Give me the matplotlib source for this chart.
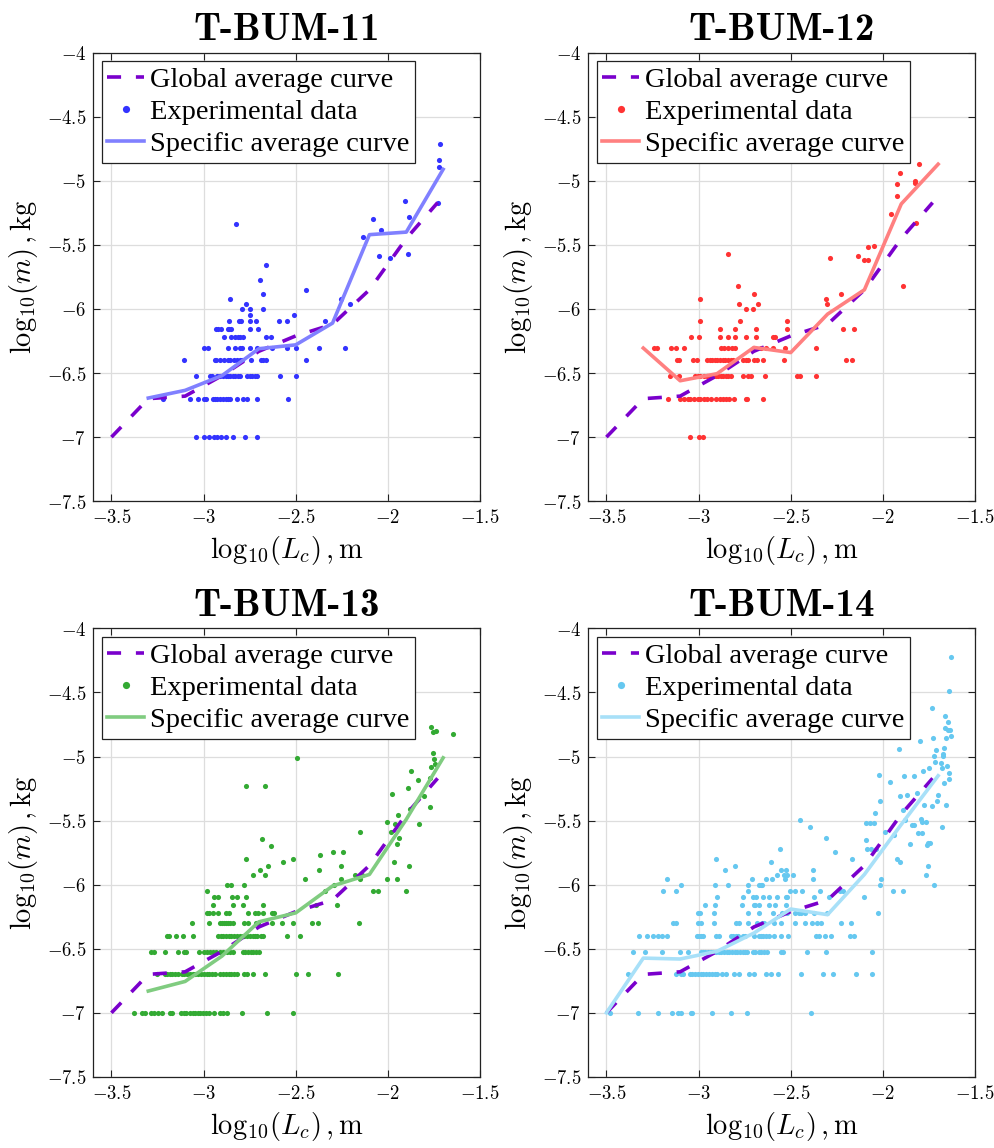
import numpy as np
import matplotlib
matplotlib.use("Agg")
import matplotlib.pyplot as plt

plt.rcParams['axes.unicode_minus'] = True
plt.rcParams['mathtext.fontset'] = 'cm'

titles = ["T-BUM-11", "T-BUM-12", "T-BUM-13", "T-BUM-14"]
x_ticks = [-3.5, -3.0, -2.5, -2.0, -1.5]
x_ticklabels = ["-3.5", "-3", "-2.5", "-2", "-1.5"]
y_ticks = [-7.5, -7.0, -6.5, -6.0, -5.5, -5.0, -4.5, -4.0]
y_ticklabels = ["-7.5", "-7", "-6.5", "-6", "-5.5", "-5", "-4.5", "-4"]

# Global average curve (same in all panels)
glob_x = [-3.5, -3.3, -3.1, -2.9, -2.7, -2.5, -2.3, -2.1, -1.9, -1.73]
glob_y = [-7.0, -6.70, -6.68, -6.52, -6.33, -6.21, -6.12, -5.85, -5.45, -5.17]

# Specific average curves
spec_x = [-3.3, -3.1, -2.9, -2.7, -2.5, -2.3, -2.1, -1.9, -1.7]
t11_spec_y = [-6.695, -6.635, -6.52, -6.31, -6.28, -6.11, -5.42, -5.40, -4.91]
t12_spec_y = [-6.305, -6.56, -6.505, -6.30, -6.34, -6.04, -5.85, -5.18, -4.87]
t13_spec_y = [-6.83, -6.755, -6.557, -6.29, -6.22, -6.01, -5.92, -5.49, -5.01]
t14_spec_x = [-3.5, -3.3, -3.1, -2.9, -2.7, -2.5, -2.3, -2.1, -1.9, -1.7]
t14_spec_y = [-7.0, -6.573, -6.58, -6.52, -6.378, -6.19, -6.234, -5.92, -5.53, -5.15]

# Experimental data: rows of equal log10(m) -> list of log10(Lc)
t11_rows = {
    -7.0: [-3.04, -3.0, -2.97, -2.945, -2.925, -2.905, -2.88, -2.84, -2.775, -2.71],
    -6.699: [-3.22, -3.075, -3.03, -3.0, -2.985, -2.95, -2.94, -2.925, -2.91, -2.895, -2.88, -2.87,
             -2.855, -2.82, -2.785, -2.765, -2.71, -2.54],
    -6.523: [-3.04, -2.965, -2.955, -2.925, -2.91, -2.895, -2.88, -2.87, -2.855, -2.84, -2.83, -2.815,
             -2.805, -2.765, -2.75, -2.735, -2.72, -2.71, -2.585, -2.5],
    -6.398: [-3.105, -2.94, -2.93, -2.91, -2.89, -2.87, -2.855, -2.835, -2.82, -2.805, -2.79, -2.745,
             -2.69, -2.675, -2.66, -2.445],
    -6.301: [-3.0, -2.975, -2.87, -2.83, -2.8, -2.79, -2.75, -2.71, -2.63, -2.55, -2.5, -2.375, -2.23],
    -6.222: [-2.89, -2.85, -2.83, -2.815, -2.8, -2.785, -2.66, -2.635],
    -6.155: [-2.93, -2.92, -2.905, -2.87, -2.86, -2.85, -2.75, -2.705],
    -6.097: [-2.86, -2.81, -2.795, -2.75, -2.715, -2.59, -2.55, -2.34],
    -6.046: [-2.75, -2.51],
    -6.0: [-2.79, -2.75, -2.675],
    -5.959: [-2.77, -2.205],
    -5.921: [-2.855, -2.255],
    -5.886: [-2.675],
    -5.854: [-2.445],
    -5.77: [-2.695],
    -5.658: [-2.66],
}
t11_extra_x = [-2.825, -2.135, -2.08, -2.035, -2.05, -1.99, -1.89, -1.905, -1.885, -1.73, -1.725, -1.725, -1.715]
t11_extra_y = [-5.337, -5.44, -5.30, -5.38, -5.585, -5.60, -5.57, -5.155, -5.285, -5.17, -4.84, -4.89, -4.71]

t12_rows = {
    -7.0: [-3.045, -3.0, -2.975],
    -6.699: [-3.165, -3.10, -3.08, -3.06, -3.045, -3.025, -3.005, -2.99, -2.97, -2.955, -2.935, -2.905,
             -2.885, -2.87, -2.85, -2.835, -2.81, -2.745, -2.735, -2.65],
    -6.523: [-3.155, -3.105, -3.02, -3.005, -2.99, -2.97, -2.955, -2.935, -2.92, -2.905, -2.895, -2.88,
             -2.865, -2.85, -2.84, -2.825, -2.76, -2.73, -2.715, -2.64, -2.465, -2.45, -2.365],
    -6.398: [-3.115, -3.105, -3.03, -3.01, -2.955, -2.94, -2.925, -2.91, -2.9, -2.885, -2.87, -2.855,
             -2.84, -2.825, -2.815, -2.76, -2.745, -2.73, -2.7, -2.685, -2.65, -2.535, -2.2, -2.17],
    -6.301: [-3.24, -3.225, -3.15, -3.125, -3.08, -2.88, -2.86, -2.84, -2.82, -2.8, -2.7, -2.66, -2.635,
             -2.595, -2.53, -2.365],
    -6.222: [-3.04, -2.995, -2.885, -2.84, -2.8, -2.745, -2.69, -2.595, -2.585],
    -6.155: [-2.885, -2.8, -2.69, -2.52, -2.215, -2.155],
    -6.097: [-2.99, -2.775, -2.52],
    -6.0: [-2.74, -2.705],
    -5.959: [-2.78, -2.675, -2.305],
    -5.921: [-2.99, -2.31],
    -5.886: [-2.70, -2.225],
    -5.824: [-2.785, -1.89],
}
t12_extra_x = [-2.84, -2.285, -2.135, -2.105, -2.08, -2.08, -2.05, -1.957, -1.924, -1.924, -1.906,
               -1.826, -1.826, -1.82, -1.803]
t12_extra_y = [-5.569, -5.60, -5.585, -5.62, -5.62, -5.52, -5.51, -5.26, -5.115, -5.025, -4.94,
               -5.02, -5.0, -5.328, -4.87]

t13_rows = {
    -7.0: [-3.375, -3.335, -3.317, -3.285, -3.267, -3.248, -3.227, -3.183, -3.169, -3.122, -3.107, -3.093,
           -3.075, -3.06, -3.046, -3.031, -3.017, -3.002, -2.988, -2.973, -2.944, -2.912, -2.893, -2.872,
           -2.792, -2.654, -2.517],
    -6.699: [-3.252, -3.212, -3.198, -3.183, -3.169, -3.154, -3.14, -3.118, -3.104, -3.089, -3.075, -3.06,
             -3.046, -3.031, -3.013, -2.998, -2.984, -2.969, -2.955, -2.94, -2.912, -2.893, -2.879, -2.864,
             -2.85, -2.835, -2.821, -2.781, -2.766, -2.73, -2.669, -2.5, -2.431, -2.268],
    -6.523: [-3.285, -3.267, -3.209, -3.14, -3.104, -3.096, -3.027, -2.998, -2.98, -2.966, -2.951, -2.93,
             -2.912, -2.893, -2.875, -2.857, -2.839, -2.785, -2.774, -2.759, -2.745, -2.73, -2.716, -2.701],
    -6.398: [-3.201, -3.19, -3.147, -3.111, -3.057, -2.919, -2.908, -2.893, -2.879, -2.864, -2.85, -2.835,
             -2.817, -2.803, -2.788, -2.781, -2.767, -2.748, -2.734, -2.719, -2.709, -2.687, -2.676, -2.546,
             -2.477],
    -6.301: [-3.065, -2.973, -2.912, -2.901, -2.89, -2.879, -2.868, -2.857, -2.839, -2.781, -2.759, -2.716,
             -2.705, -2.629, -2.575, -2.513, -2.413, -2.377, -2.155],
    -6.222: [-2.98, -2.97, -2.948, -2.919, -2.879, -2.864, -2.759, -2.719, -2.705, -2.676, -2.629, -2.618],
    -6.155: [-2.948, -2.843, -2.788, -2.676, -2.391, -2.277],
    -6.097: [-2.944, -2.919, -2.845, -2.82, -2.77],
    -6.046: [-2.98, -2.341, -2.083, -2.054, -1.9],
    -6.0: [-2.875, -2.85, -2.781, -2.29],
    -5.959: [-2.449, -2.252, -2.15, -2.006, -1.951],
    -5.921: [-2.73, -2.665, -2.178, -2.14],
    -5.886: [-2.694, -2.372],
    -5.854: [-2.651, -2.254, -1.886],
    -5.824: [-2.567, -1.966],
    -5.796: [-2.77, -2.517],
    -5.77: [-2.368],
    -5.745: [-2.299, -2.246],
    -5.699: [-2.633],
}
t13_extra_x = [-2.683, -2.772, -2.668, -2.495, -1.766, -1.755, -1.737, -1.647, -1.756, -1.748, -1.745,
               -1.766, -1.875, -1.77, -1.835, -1.893, -1.98, -1.77, -1.803, -1.879, -1.944, -2.006,
               -1.962, -1.832, -1.984, -2.15, -1.941, -1.948]
t13_extra_y = [-5.64, -5.227, -5.227, -5.01, -4.771, -4.807, -4.797, -4.823, -4.974, -5.018, -5.059,
               -5.078, -5.111, -5.171, -5.184, -5.246, -5.296, -5.39, -5.311, -5.41, -5.457, -5.511,
               -5.524, -5.524, -5.587, -5.587, -5.636, -5.68]

t14_rows = {
    -7.0: [-3.48, -3.326, -3.221, -3.145, -3.112, -3.094, -3.043, -3.036, -2.928, -2.826, -2.739, -2.391],
    -6.699: [-3.384, -3.123, -3.094, -3.083, -3.047, -3.033, -3.018, -3.004, -2.989, -2.975, -2.96, -2.946,
             -2.928, -2.913, -2.902, -2.873, -2.851, -2.808, -2.779, -2.725, -2.699, -2.634, -2.609, -2.569,
             -2.446, -2.323, -2.272, -2.147, -2.06],
    -6.523: [-3.355, -3.293, -3.196, -3.101, -3.058, -2.989, -2.975, -2.964, -2.95, -2.935, -2.92, -2.906,
             -2.891, -2.877, -2.862, -2.848, -2.833, -2.819, -2.804, -2.79, -2.775, -2.761, -2.75, -2.736,
             -2.707, -2.696, -2.674, -2.66, -2.645, -2.63, -2.554, -2.543, -2.413, -2.308, -2.06],
    -6.398: [-3.322, -3.279, -3.246, -3.221, -3.196, -3.17, -3.011, -3.0, -2.989, -2.978, -2.906, -2.888,
             -2.826, -2.812, -2.797, -2.786, -2.761, -2.746, -2.699, -2.674, -2.663, -2.652, -2.634, -2.62,
             -2.591, -2.554, -2.515, -2.362, -2.348, -2.315, -2.283, -2.18, -2.157],
    -6.301: [-3.138, -3.123, -3.004, -2.989, -2.917, -2.797, -2.782, -2.732, -2.681, -2.656, -2.645, -2.591,
             -2.554, -2.475, -2.424, -2.384, -2.359, -2.333, -2.228, -2.174],
    -6.222: [-3.004, -2.993, -2.917, -2.732, -2.674, -2.594, -2.547, -2.522, -2.475, -2.457, -2.446, -2.424,
             -2.373, -2.301, -2.027],
    -6.155: [-2.964, -2.909, -2.764, -2.699, -2.692, -2.674, -2.62, -2.587, -2.525],
    -6.097: [-2.902, -2.757, -2.703, -2.688, -2.649, -2.62, -2.576, -2.525, -2.518, -2.373, -2.293, -2.1],
    -6.046: [-3.192, -3.123, -2.732, -2.504, -2.478, -2.438, -2.341, -2.235, -2.214, -1.946, -1.891],
    -6.0: [-3.098, -2.909, -2.841, -2.732, -2.674, -2.659, -2.656, -2.015, -1.721],
    -5.959: [-3.174, -2.71, -2.634, -2.601, -2.533, -2.377, -2.011],
    -5.921: [-2.576, -2.536, -2.522, -2.485, -1.768],
    -5.886: [-2.855, -2.554, -2.525, -2.377],
    -5.854: [-2.804, -1.757],
}
t14_extra_x = [-2.906, -2.609, -2.558, -2.449, -2.395, -2.311, -2.257, -2.17, -2.094, -2.072, -2.047, -2.04,
               -2.018, -2.022, -2.094, -2.087, -2.065, -2.036, -1.99, -1.938, -1.924, -1.906, -1.96, -1.913,
               -1.884, -1.833, -1.909, -1.87, -1.891, -1.88, -1.84, -1.83, -1.851, -1.815, -1.797, -1.793,
               -1.786, -1.768, -1.81, -1.786, -1.783, -1.779, -1.757, -1.746, -1.76, -1.752, -1.735, -1.732,
               -1.728, -1.721, -1.717, -1.714, -1.706, -1.699, -1.685, -1.681, -1.681, -1.676, -1.676, -1.67,
               -1.667, -1.663, -1.661, -1.656, -1.656, -1.652, -1.649, -1.645, -1.641, -1.641, -1.641, -1.634,
               -1.631, -1.63]
t14_extra_y = [-5.796, -5.824, -5.72, -5.497, -5.549, -5.637, -5.746, -5.796, -5.52, -5.52, -5.52, -5.44,
               -5.348, -5.143, -5.655, -5.72, -5.72, -5.72, -5.585, -5.611, -5.798, -5.824, -5.2, -4.945,
               -5.153, -5.153, -5.31, -5.3, -5.419, -5.497, -5.533, -5.533, -5.679, -5.283, -4.878, -5.491,
               -5.507, -5.507, -5.6, -5.6, -5.114, -5.377, -5.673, -5.673, -5.694, -5.088, -5.387, -4.618,
               -4.855, -4.997, -5.044, -4.95, -5.345, -5.3, -5.05, -5.088, -5.551, -4.997, -4.98, -4.932,
               -5.21, -4.779, -4.685, -4.852, -5.377, -5.07, -4.732, -4.789, -4.49, -5.127, -5.174, -4.789,
               -4.222, -4.841]

point_colors = ["#3333ff", "#ff3333", "#33aa33", "#66c8f0"]
curve_colors = ["#8080ff", "#ff8080", "#80cc80", "#a8e0f8"]
glob_color = "#7a00cc"

panels = [
    (t11_rows, t11_extra_x, t11_extra_y, spec_x, t11_spec_y),
    (t12_rows, t12_extra_x, t12_extra_y, spec_x, t12_spec_y),
    (t13_rows, t13_extra_x, t13_extra_y, spec_x, t13_spec_y),
    (t14_rows, t14_extra_x, t14_extra_y, t14_spec_x, t14_spec_y),
]

W, H = 995, 1148
fig = plt.figure(figsize=(W / 100, H / 100), dpi=100)
lefts = [93, 588, 93, 588]
tops = [52.7, 52.7, 628.4, 628.4]
aw, ah = 387, 448.5

for i, (rows, ex, ey, sx, sy) in enumerate(panels):
    ax = fig.add_axes([lefts[i] / W, 1 - (tops[i] + ah) / H, aw / W, ah / H])
    px, py = [], []
    for yv, xs in rows.items():
        px.extend(xs)
        py.extend([yv] * len(xs))
    px.extend(ex)
    py.extend(ey)
    ax.plot(glob_x, glob_y, color=glob_color, lw=2.6, linestyle=(0, (3.9, 4.1)),
            label="Global average curve", zorder=3)
    ax.plot(px, py, 'o', ms=3.7, color=point_colors[i], mec='none',
            label="Experimental data", zorder=2)
    ax.plot(sx, sy, color=curve_colors[i], lw=2.6, label="Specific average curve", zorder=4)

    ax.set_xlim(-3.6, -1.5)
    ax.set_ylim(-7.5, -4.0)
    ax.set_xticks(x_ticks)
    ax.set_xticklabels(["$%s$" % s for s in x_ticklabels], fontsize=13.5)
    ax.set_yticks(y_ticks)
    ax.set_yticklabels(["$%s$" % s for s in y_ticklabels], fontsize=13.5)
    ax.tick_params(direction='in', top=True, right=True, length=5, width=0.8, pad=5, color="#222222")
    ax.grid(True, color="#dddddd", lw=0.9)
    ax.set_axisbelow(True)
    for s in ax.spines.values():
        s.set_linewidth(0.9)
        s.set_color("#222222")
    ax.set_title(titles[i], fontfamily="cmb10", fontsize=28, pad=9)
    ax.set_xlabel(r"$\mathrm{log}_{10}(L_c)\,,\mathrm{m}$", fontsize=20.5, labelpad=5)
    ax.set_ylabel(r"$\mathrm{log}_{10}(m)\,,\mathrm{kg}$", fontsize=20.5, labelpad=5)
    leg = ax.legend(loc="upper left", prop={"family": "Liberation Serif", "size": 20.5},
                    frameon=True, fancybox=False, framealpha=1, edgecolor="#222222",
                    borderpad=0.2, labelspacing=0.22, handlelength=1.3, handletextpad=0.2,
                    borderaxespad=0.3, markerscale=1.4)
    leg.get_frame().set_linewidth(0.9)

fig.savefig("out.png", dpi=100)
